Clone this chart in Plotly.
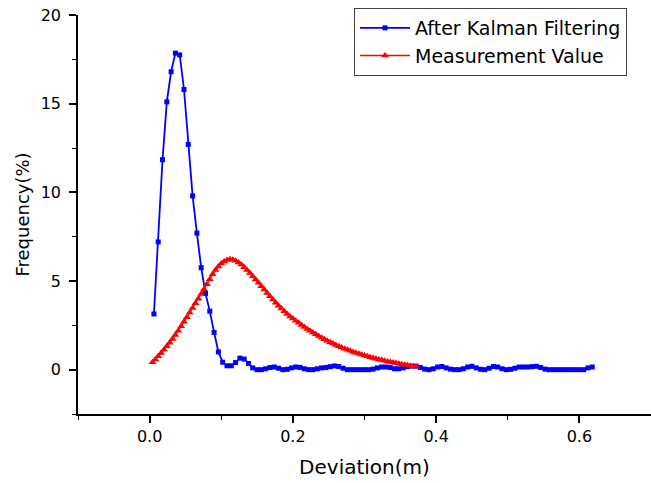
import plotly.graph_objects as go

# ---- data ----
blue_x = [0.006, 0.012, 0.018, 0.024, 0.030, 0.036, 0.042, 0.048, 0.054, 0.060,
          0.066, 0.072, 0.078, 0.084, 0.090, 0.096, 0.102, 0.108, 0.114, 0.120,
          0.126, 0.132, 0.138, 0.144, 0.150, 0.156, 0.162, 0.168, 0.174, 0.180,
          0.186, 0.192, 0.198, 0.204, 0.210, 0.216, 0.222, 0.228, 0.234, 0.240,
          0.246, 0.252, 0.258, 0.264, 0.270, 0.276, 0.282, 0.288, 0.294, 0.300,
          0.306, 0.312, 0.318, 0.324, 0.330, 0.336, 0.342, 0.348, 0.354, 0.360,
          0.366, 0.372, 0.378, 0.384, 0.390, 0.396, 0.402, 0.408, 0.414, 0.420,
          0.426, 0.432, 0.438, 0.444, 0.450, 0.456, 0.462, 0.468, 0.474, 0.480,
          0.486, 0.492, 0.498, 0.504, 0.510, 0.516, 0.522, 0.528, 0.534, 0.540,
          0.546, 0.552, 0.558, 0.564, 0.570, 0.576, 0.582, 0.588, 0.594, 0.600,
          0.606, 0.612, 0.618]
blue_y = [3.14, 7.2, 11.84, 15.1, 16.8, 17.85, 17.75, 15.8, 12.7, 9.8,
          7.7, 5.75, 4.3, 3.3, 2.1, 1.0, 0.42, 0.22, 0.22, 0.4,
          0.65, 0.6, 0.35, 0.1, 0.0, 0.0, 0.05, 0.12, 0.15, 0.08,
          0.0, 0.02, 0.1, 0.15, 0.13, 0.05, 0.0, 0.0, 0.05, 0.1,
          0.12, 0.17, 0.21, 0.18, 0.08, 0.0, 0.0, 0.0, 0.0, 0.0,
          0.0, 0.03, 0.1, 0.15, 0.15, 0.12, 0.05, 0.05, 0.1, 0.17,
          0.2, 0.2, 0.12, 0.03, 0.0, 0.05, 0.15, 0.18, 0.1, 0.03,
          0.0, 0.0, 0.05, 0.15, 0.19, 0.1, 0.02, 0.0, 0.08, 0.18,
          0.15, 0.05, 0.0, 0.02, 0.08, 0.15, 0.15, 0.15, 0.17, 0.19,
          0.12, 0.03, 0.0, 0.0, 0.0, 0.0, 0.0, 0.0, 0.0, 0.0,
          0.0, 0.1, 0.15]

red_x = [0.004, 0.008, 0.012, 0.016, 0.020, 0.024, 0.028, 0.032, 0.036, 0.040,
         0.044, 0.048, 0.052, 0.056, 0.060, 0.064, 0.068, 0.072, 0.076, 0.080,
         0.084, 0.088, 0.092, 0.096, 0.100, 0.104, 0.108, 0.112, 0.116, 0.120,
         0.124, 0.128, 0.132, 0.136, 0.140, 0.144, 0.148, 0.152, 0.156, 0.160,
         0.164, 0.168, 0.172, 0.176, 0.180, 0.184, 0.188, 0.192, 0.196, 0.200,
         0.204, 0.208, 0.212, 0.216, 0.220, 0.224, 0.228, 0.232, 0.236, 0.240,
         0.244, 0.248, 0.252, 0.256, 0.260, 0.264, 0.268, 0.272, 0.276, 0.280,
         0.284, 0.288, 0.292, 0.296, 0.300, 0.304, 0.308, 0.312, 0.316, 0.320,
         0.324, 0.328, 0.332, 0.336, 0.340, 0.344, 0.348, 0.352, 0.356, 0.360,
         0.364, 0.368, 0.372]
red_y = [0.42, 0.58, 0.76, 0.94, 1.13, 1.32, 1.52, 1.73, 1.96, 2.2,
         2.45, 2.7, 2.96, 3.22, 3.48, 3.74, 4.0, 4.27, 4.54, 4.82,
         5.1, 5.38, 5.62, 5.82, 5.98, 6.1, 6.18, 6.22, 6.2, 6.14,
         6.05, 5.93, 5.78, 5.62, 5.45, 5.27, 5.08, 4.9, 4.71, 4.52,
         4.33, 4.14, 3.96, 3.78, 3.6, 3.45, 3.29, 3.14, 3.0, 2.88,
         2.76, 2.64, 2.52, 2.41, 2.3, 2.2, 2.1, 2.0, 1.9, 1.8,
         1.71, 1.63, 1.55, 1.47, 1.39, 1.32, 1.25, 1.18, 1.12, 1.06,
         1.0, 0.95, 0.9, 0.85, 0.8, 0.75, 0.7, 0.66, 0.62, 0.58,
         0.54, 0.5, 0.46, 0.43, 0.4, 0.37, 0.34, 0.31, 0.28, 0.25,
         0.22, 0.19, 0.16]

series_names = ["After Kalman Filtering", "Measurement Value"]
x_title = "Deviation(m)"
y_title = "Frequency(%)"

FONT = "'DejaVu Sans', sans-serif"

fig = go.Figure()
fig.add_trace(go.Scatter(
    x=blue_x, y=blue_y, mode="lines+markers", name=series_names[0],
    line=dict(color="#0000FF", width=1.8),
    marker=dict(symbol="square", size=5, color="#0000FF", line=dict(width=0)),
))
fig.add_trace(go.Scatter(
    x=red_x, y=red_y, mode="lines+markers", name=series_names[1],
    line=dict(color="#FF0000", width=1.5),
    marker=dict(symbol="triangle-up", size=7, color="#FF0000", line=dict(width=0)),
))

axis_common = dict(
    showline=True, linecolor="black", linewidth=1.5,
    ticks="outside", ticklen=7, tickwidth=1.5, tickcolor="black",
    showgrid=False, zeroline=False, mirror=False, automargin=False,
    tickfont=dict(size=16, family=FONT, color="black"),
)

fig.update_layout(
    width=651, height=483,
    margin=dict(l=78, r=0, t=15, b=69, autoexpand=False),
    plot_bgcolor="white", paper_bgcolor="white",
    font=dict(family=FONT, color="black"),
    legend=dict(
        x=0.4817, y=1.0175, xanchor="left", yanchor="top",
        bordercolor="#444444", borderwidth=1, bgcolor="white",
        font=dict(size=19, family=FONT, color="black"),
        itemwidth=50, tracegroupgap=0,
        entrywidth=240, entrywidthmode="pixels",
    ),
    xaxis=dict(
        range=[-0.1, 0.7], dtick=0.2, tick0=0, tickformat=".1f",
        minor=dict(dtick=0.1, tick0=0, ticks="outside", ticklen=4, tickwidth=1.2, tickcolor="black"),
        title=dict(text=x_title, font=dict(size=20, family=FONT), standoff=15),
        **axis_common,
    ),
    yaxis=dict(
        range=[-2.5, 20], dtick=5, tick0=0,
        minor=dict(dtick=2.5, tick0=0, ticks="outside", ticklen=4, tickwidth=1.2, tickcolor="black"),
        title=dict(text=y_title, font=dict(size=18, family=FONT), standoff=6),
        ticklabelstandoff=5,
        **axis_common,
    ),
)

fig.write_html(
    "out.html",
    config={"displayModeBar": False},
    post_script="document.body.style.margin='0';document.body.style.padding='0';",
)
